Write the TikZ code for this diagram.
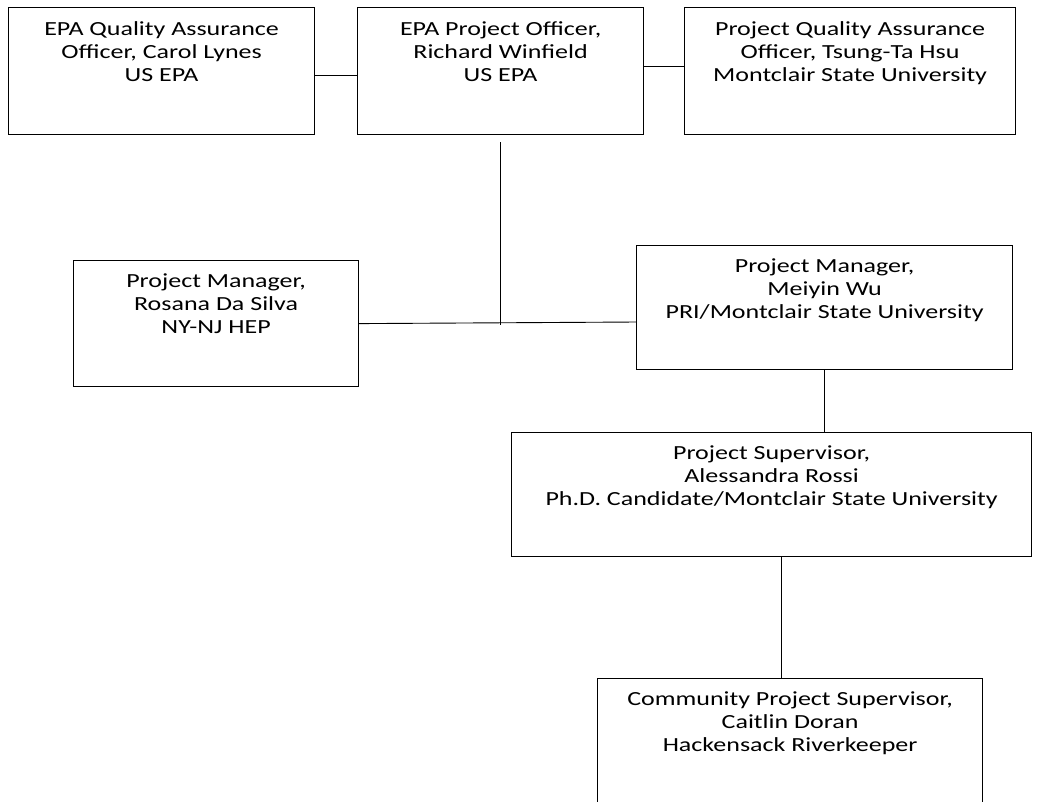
\documentclass[tikz,border=0pt]{standalone}
\usepackage{fontspec}
\setmainfont{Carlito}[FakeStretch=1.3]
\begin{document}
\begin{tikzpicture}[x=1pt,y=-1pt,
  box/.style={draw=black,line width=1.2pt,anchor=north west,inner sep=0pt},
  lbl/.style={anchor=north,align=center,inner sep=0pt,font=\fontsize{20}{23}\selectfont},
  conn/.style={draw=black,line width=0.9pt}]
\useasboundingbox (0,0) rectangle (1043,801);
\begin{scope}
\clip (0,0) rectangle (1043,801);
% boxes
\node[box,minimum width=306pt,minimum height=127pt] (qa) at (8,7) {};
\node[box,minimum width=286pt,minimum height=127pt] (po) at (357,7) {};
\node[box,minimum width=331pt,minimum height=127pt] (pqa) at (684,7) {};
\node[box,minimum width=285pt,minimum height=126pt] (rds) at (73,260) {};
\node[box,minimum width=376pt,minimum height=124pt] (mw) at (636,245) {};
\node[box,minimum width=520pt,minimum height=124pt] (ps) at (511,432) {};
\node[box,minimum width=385pt,minimum height=160pt] (cps) at (597,678) {};
% labels
\node[lbl] (tqa) at ([yshift=-14pt]qa.north) {EPA Quality Assurance\\Officer, Carol Lynes\\US EPA};
\node[lbl] (tpo) at ([yshift=-14pt]po.north) {EPA Project Officer,\\Richard Winfield\\US EPA};
\node[lbl] (tpqa) at ([yshift=-14pt]pqa.north) {Project Quality Assurance\\Officer, Tsung-Ta Hsu\\Montclair State University};
\node[lbl] (trds) at ([yshift=-14pt]rds.north) {Project Manager,\\Rosana Da Silva\\NY-NJ HEP};
\node[lbl] (tmw) at ([yshift=-14pt]mw.north) {Project Manager,\\Meiyin Wu\\PRI/Montclair State University};
\node[lbl] (tps) at ([yshift=-14pt]ps.north) {Project Supervisor,\\Alessandra Rossi\\Ph.D. Candidate/Montclair State University};
\node[lbl] (tcps) at ([yshift=-14pt]cps.north) {Community Project Supervisor,\\Caitlin Doran\\Hackensack Riverkeeper};
% connectors
\coordinate (vtop) at (500,142);
\coordinate (vbot) at (500,325);
\draw[conn] ([yshift=-4.5pt]qa.east) -- ([yshift=-4.5pt]po.west);
\draw[conn] ([yshift=4.5pt]po.east) -- ([yshift=4.5pt]pqa.west);
\draw[conn] (vtop) -- (vbot);
\draw[conn] (rds.east) -- (mw.west |- 0,322);
\draw[conn] (mw.south -| 824,0) -- (ps.north -| 824,0);
\draw[conn] (ps.south -| 781,0) -- (cps.north -| 781,0);
\end{scope}
\end{tikzpicture}
\end{document}
